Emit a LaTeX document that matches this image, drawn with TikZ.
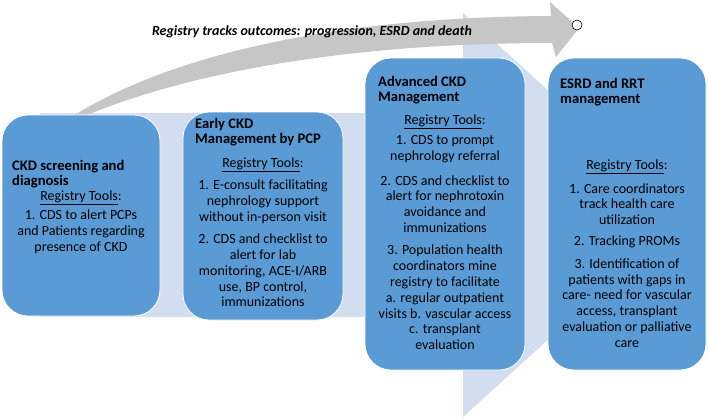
\documentclass[tikz,border=0pt]{standalone}
\usepackage{fontspec}
\setmainfont{Carlito}
\definecolor{boxblue}{HTML}{5B9BD5}
\definecolor{bgblue}{HTML}{D2DEEF}
\definecolor{arrowgray}{HTML}{C6C6C6}
\tikzset{
  stagebox/.style={draw=white, line width=0.8pt, fill=boxblue, rounded corners=26pt, inner sep=0pt},
  titletext/.style={anchor=west, align=left, inner sep=0pt, font=\fontsize{14.6}{15.2}\selectfont\bfseries},
  bodytext/.style={align=center, inner sep=0pt, font=\fontsize{14}{15.8}\selectfont},
}
\newcommand{\regtools}{\underline{Registry Tools}:}
\begin{document}
\begin{tikzpicture}[x=1pt,y=-1pt]
\useasboundingbox (0,0) rectangle (709,418);
% background chevron arrow
\fill[bgblue] (40,113) -- (463,113) -- (463,13) -- (685,215) -- (463,417) -- (463,317) -- (40,317) -- cycle;
% curved gray arrow
\fill[arrowgray] (70,118) .. controls (160,60) and (320,17) .. (551,16)
  -- (550,2) -- (579,28) -- (556,57) -- (552,43)
  .. controls (340,43) and (180,75) .. (80,118) -- cycle;
\node (outc) at (312,32) {\fontsize{14}{16}\selectfont\bfseries\itshape Registry tracks outcomes: progression, ESRD and death};
\node (circ) [circle, draw=black, fill=white, line width=0.6pt, minimum size=10pt, inner sep=0pt] at (577,25) {};
% boxes
\node (b1) [stagebox, minimum width=158pt, minimum height=201pt] at (81,215.5) {};
\node (b2) [stagebox, minimum width=160pt, minimum height=208pt] at (263,216) {};
\node (b3) [stagebox, minimum width=160pt, minimum height=312pt] at (445,214) {};
\node (b4) [stagebox, minimum width=158pt, minimum height=312pt] at (627,214) {};
% box 1
\node (t1) [titletext] at (12,174.5) {CKD screening and\\diagnosis};
\node (r1) [bodytext] at (81,198) {\regtools};
\node (p11) [bodytext] at (81,232) {1. CDS to alert PCPs\\and Patients regarding\\presence of CKD};
% box 2
\node (t2) [titletext] at (195,132.5) {Early CKD\\Management by PCP};
\node (r2) [bodytext] at (263,165) {\regtools};
\node (p21) [bodytext] at (263,202) {1. E-consult facilitating\\nephrology support\\without in-person visit};
\node (p22) [bodytext] at (263,270.5) {2. CDS and checklist to\\alert for lab\\monitoring, ACE-I/ARB\\use, BP control,\\immunizations};
% box 3
\node (t3) [titletext] at (378,90.5) {Advanced CKD\\Management};
\node (r3) [bodytext] at (445,122) {\regtools};
\node (p31) [bodytext] at (445,149.5) {1. CDS to prompt\\nephrology referral};
\node (p32) [bodytext] at (445,204) {2. CDS and checklist to\\alert for nephrotoxin\\avoidance and\\immunizations};
\node (p33) [bodytext] at (445,297.5) {3. Population health\\coordinators mine\\registry to facilitate\\a. regular outpatient\\visits b. vascular access\\c. transplant\\evaluation};
% box 4
\node (t4) [titletext] at (560,92.5) {ESRD and RRT\\management};
\node (r4) [bodytext] at (627,167) {\regtools};
\node (p41) [bodytext] at (627,204) {1. Care coordinators\\track health care\\utilization};
\node (p42) [bodytext] at (627,242) {2. Tracking PROMs};
\node (p43) [bodytext] at (627,303) {3. Identification of\\patients with gaps in\\care- need for vascular\\access, transplant\\evaluation or palliative\\care};
\end{tikzpicture}
\end{document}
